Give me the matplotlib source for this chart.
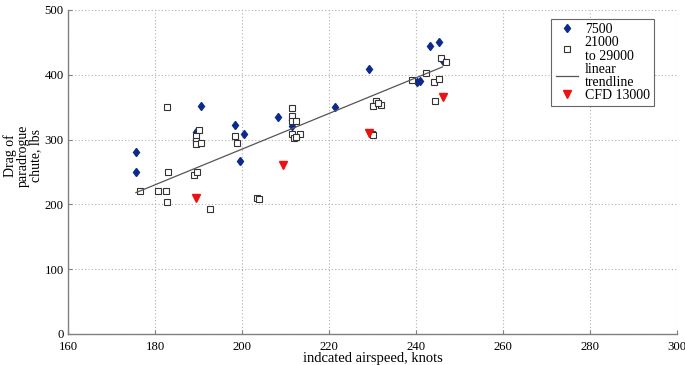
import numpy as np
import matplotlib
matplotlib.use("Agg")
import matplotlib.pyplot as plt

# ---------------- Data ----------------

x_7500 = [175.6, 175.6, 189.5, 190.6, 198.5, 199.5, 200.5, 208.3, 211.4, 211.6,
          221.4, 229.3, 240.3, 241.0, 243.3, 245.3, 246.1]
y_7500 = [280, 250, 312, 352, 322, 267, 308, 335, 330, 321,
          350, 409, 389, 390, 444, 450, 421]

x_hi = [176.6, 180.6, 182.6, 182.8, 182.8, 182.9, 189.0, 189.6, 192.6, 190.0,
        189.5, 189.5, 189.5, 190.6, 198.5, 198.8, 203.4, 204.0, 211.4, 211.4,
        211.4, 212.3, 211.4, 213.4, 212.0, 212.3, 230.8, 230.0, 231.9, 231.2,
        229.9, 230.2, 239.1, 242.2, 244.2, 245.4, 244.4, 245.7, 246.9]
y_hi = [220, 220, 220, 350, 204, 250, 246, 250, 193, 315,
        306, 297, 293, 294, 305, 294, 210, 208, 348, 337,
        329, 329, 308, 308, 303, 304, 360, 352, 353, 356,
        308, 307, 392, 402, 388, 393, 360, 425, 419]

x_cfd = [189.5, 209.4, 229.3, 246.3]
y_cfd = [210, 260, 310, 365]

x_trend = [175.6, 246.1]
y_trend = [218, 412]

xticks = [160, 180, 200, 220, 240, 260, 280, 300]
yticks = [0, 100, 200, 300, 400, 500]

# ---------------- Plot ----------------

plt.rcParams["font.family"] = ["Liberation Serif", "DejaVu Serif"]

fig = plt.figure(figsize=(6.85, 3.65), dpi=100)
ax = fig.add_axes([0.0993, 0.085, 0.889, 0.888])

ax.plot(x_7500, y_7500, linestyle="none", marker="d", markersize=4.4,
        color="#0b2a8c", label="7500")
ax.plot(x_hi, y_hi, linestyle="none", marker="s", markersize=4.8,
        markerfacecolor="white", markeredgecolor="#333333", markeredgewidth=0.8,
        label="21000\nto 29000")
ax.plot(x_trend, y_trend, color="#555555", linewidth=0.9,
        label="linear\ntrendline")
ax.plot(x_cfd, y_cfd, linestyle="none", marker="v", markersize=5.5,
        color="#ee1111", label="CFD 13000")

ax.set_xlim(160, 300)
ax.set_ylim(0, 500)
ax.set_xticks(xticks)
ax.set_yticks(yticks)
ax.grid(True, linestyle=(0, (1, 2)), color="#b0b0b0", linewidth=0.8)
ax.set_axisbelow(True)

for s in ["top", "right"]:
    ax.spines[s].set_visible(False)
for s in ["left", "bottom"]:
    ax.spines[s].set_color("#808080")
    ax.spines[s].set_linewidth(1.0)

ax.tick_params(direction="in", length=3, color="#808080", labelsize=9.2)
ax.tick_params(axis="x", pad=5)
ax.tick_params(axis="y", pad=3)

ax.set_xlabel("indcated airspeed, knots", fontsize=10.5, labelpad=-1)
ax.set_ylabel("Drag of\nparadrogue\nchute, lbs", fontsize=10, linespacing=0.95)
ax.yaxis.set_label_coords(-0.043, 0.55)

leg = ax.legend(loc="upper right", bbox_to_anchor=(0.962, 0.972),
                borderaxespad=0, fancybox=False, edgecolor="#666666",
                framealpha=1, fontsize=10, labelspacing=0.0,
                handlelength=1.6, handletextpad=0.5, borderpad=0.3)
leg.get_frame().set_linewidth(0.8)
for t in leg.get_texts():
    t.set_linespacing(1.05)

fig.savefig("out.png", dpi=100)
